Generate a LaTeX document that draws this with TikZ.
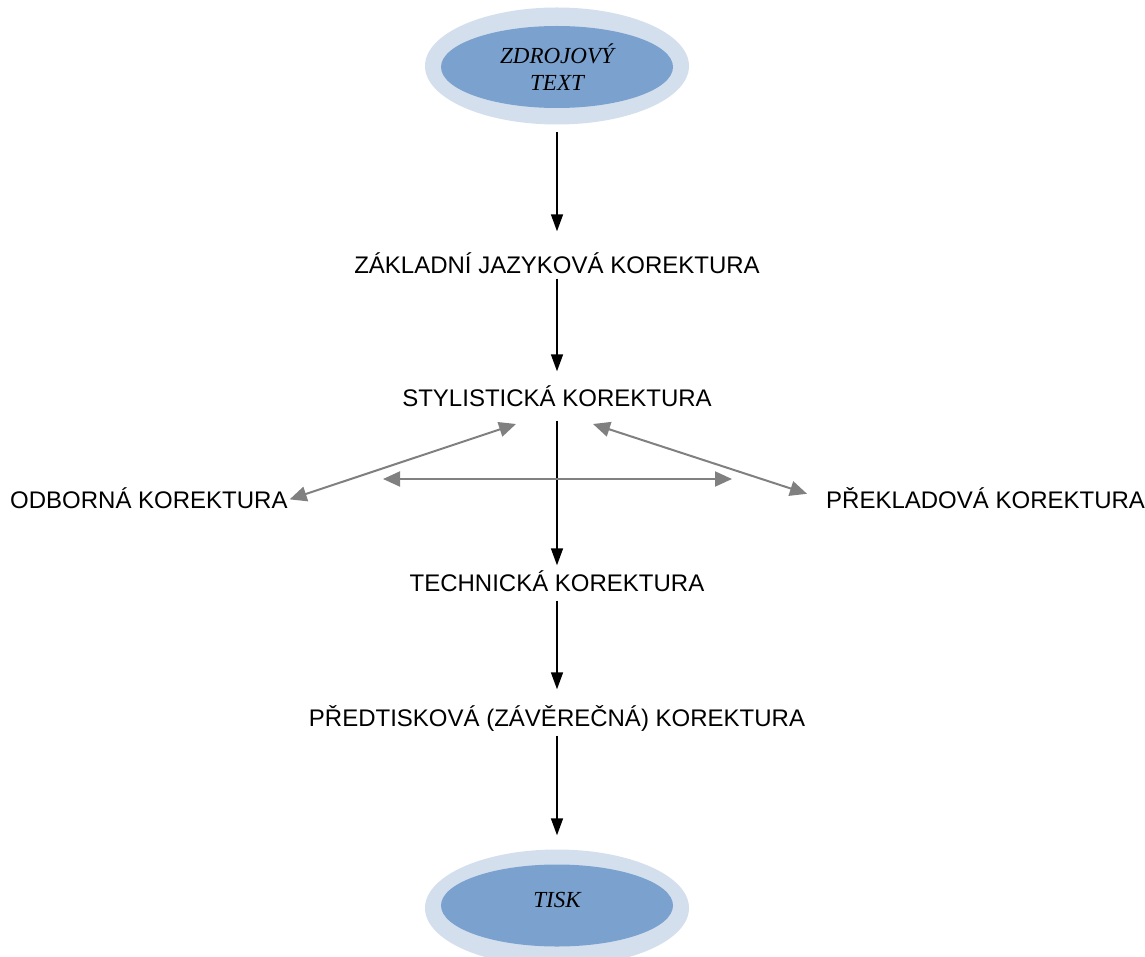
\documentclass[tikz,border=0pt]{standalone}
\usepackage{fontspec}
\setmainfont{Liberation Sans}
\newfontfamily\serifit{Liberation Serif}
\usetikzlibrary{shapes.geometric,arrows.meta}
\definecolor{outerblue}{HTML}{D4DFEE}
\definecolor{innerblue}{HTML}{7BA1CE}
\definecolor{arrgray}{HTML}{808080}
\begin{document}
\begin{tikzpicture}[x=1pt,y=-1pt,
  lbl/.style={inner sep=0pt,text height=17pt,text depth=0pt,font=\fontsize{24}{28}\selectfont},
  term/.style={ellipse,inner sep=0pt,fill=innerblue,minimum width=232pt,minimum height=82pt,
    align=center,font=\serifit\itshape\fontsize{23}{27}\selectfont},
  halo/.style={fill=outerblue},
  flow/.style={line width=1.6pt,-{Triangle[width=12pt,length=17pt]}},
  side/.style={line width=2pt,draw=arrgray,{Triangle[width=15pt,length=17pt]}-{Triangle[width=15pt,length=17pt]},color=arrgray}
]
\useasboundingbox (0,0) rectangle (1145,957);
\fill[halo] (557,66) ellipse [x radius=132, y radius=58.5];
\fill[halo] (557,908) ellipse [x radius=132, y radius=58.5];
\node[term] (src) at (557,67) {ZDROJOVÝ\\TEXT};
\node[term] (tisk) at (557,905.5) {\raisebox{12pt}{TISK}};
\node[lbl] (zak) at (557,265) {ZÁKLADNÍ JAZYKOVÁ KOREKTURA};
\node[lbl] (sty) at (557,398) {STYLISTICKÁ KOREKTURA};
\node[lbl,anchor=west] (odb) at (10,500) {ODBORNÁ KOREKTURA};
\node[lbl,anchor=west] (prek) at (826,500) {PŘEKLADOVÁ KOREKTURA};
\node[lbl] (tech) at (557,583) {TECHNICKÁ KOREKTURA};
\node[lbl] (pred) at (557,718) {PŘEDTISKOVÁ (ZÁVĚREČNÁ) KOREKTURA};
\coordinate (dl) at (516,424);
\coordinate (dr) at (593,424);
\coordinate (hl) at (383,479);
\coordinate (hr) at (732,479);
\draw[flow,shorten <=24pt,shorten >=25pt] (src.south) -- (zak.north);
\draw[flow,shorten <=5pt,shorten >=18pt] (zak.south) -- (sty.north);
\draw[flow,shorten <=14pt,shorten >=9pt] (sty.south) -- (tech.north);
\draw[flow,shorten <=9pt,shorten >=20pt] (tech.south) -- (pred.north);
\draw[flow,shorten <=9pt,shorten >=29pt] (pred.south) -- (tisk.north);
\draw[side,shorten <=2pt] (odb.east) -- (dl);
\draw[side,shorten >=20pt] (dr) -- (prek.west);
\draw[side] (hl) -- (hr);
\end{tikzpicture}
\end{document}
